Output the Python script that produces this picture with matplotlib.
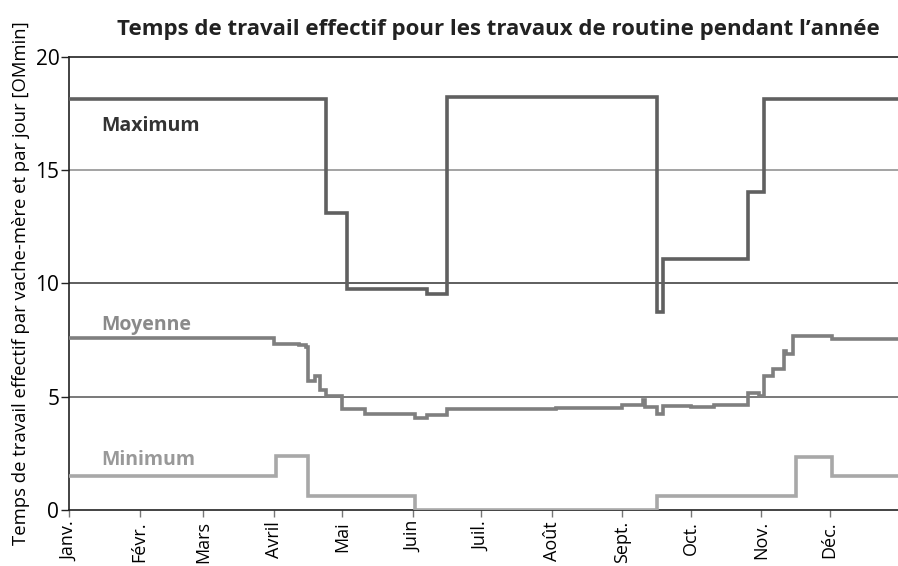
import numpy as np
import matplotlib.pyplot as plt

plt.rcParams['font.family'] = ['Open Sans', 'DejaVu Sans']

# day of year where each level starts, and the level (OMmin per cow and day)
max_days = [0, 113, 122, 157, 166, 258, 261, 298, 305]
max_vals = [18.14, 13.1, 9.77, 9.52, 18.24, 8.74, 11.09, 14.05, 18.14]

mean_days = [0, 90, 101, 104, 105, 108, 110, 113, 120, 130, 152, 157, 166,
             214, 243, 252, 253, 258, 261, 273, 283, 298, 303, 305, 309,
             314, 315, 318, 335]
mean_vals = [7.59, 7.34, 7.28, 7.2, 5.70, 5.90, 5.29, 5.02, 4.48, 4.23, 4.08,
             4.2, 4.45, 4.5, 4.65, 4.85, 4.55, 4.26, 4.58, 4.53, 4.63, 5.18,
             5.02, 5.90, 6.24, 7.0, 6.87, 7.67, 7.56]

min_days = [0, 91, 105, 152, 258, 319, 335]
min_vals = [1.51, 2.38, 0.63, 0.0, 0.63, 2.35, 1.51]

months = ['Janv.', 'Févr.', 'Mars', 'Avril', 'Mai', 'Juin', 'Juil.',
          'Août', 'Sept.', 'Oct.', 'Nov.', 'Déc.']
month_start = [0, 31, 59, 90, 120, 151, 181, 212, 243, 273, 304, 334]
last_day = 364

fig = plt.figure(figsize=(8.98, 5.66), dpi=100)
ax = fig.add_axes([69/898, 1 - 510/566, 829/898, (510 - 57)/566])

# horizontal reference lines
for yv, col in [(5, '#555555'), (10, '#333333'), (15, '#8a8a8a')]:
    ax.axhline(yv, color=col, lw=1.1, zorder=1)


def step_line(days, vals, color):
    x = list(days) + [last_day]
    y = list(vals) + [vals[-1]]
    ax.plot(x, y, drawstyle='steps-post', color=color, lw=2.6,
            solid_joinstyle='miter', zorder=3)


step_line(min_days, min_vals, '#a8a8a8')
step_line(mean_days, mean_vals, '#7f7f7f')
step_line(max_days, max_vals, '#606060')

ax.text(14, 16.95, 'Maximum', fontsize=14, fontweight='bold', color='#333333', va='center')
ax.text(14, 8.15, 'Moyenne', fontsize=14, fontweight='bold', color='#8a8a8a', va='center')
ax.text(14, 2.2, 'Minimum', fontsize=14, fontweight='bold', color='#999999', va='center')

ax.set_xlim(0, last_day)
ax.set_ylim(0, 20)
ax.set_yticks([0, 5, 10, 15, 20])
ax.tick_params(axis='y', labelsize=15, length=6, width=1, color='#222222', pad=1)
ax.set_xticks(month_start)
ax.set_xticklabels(months, rotation=90, fontsize=13)
ax.tick_params(axis='x', length=5, width=1, color='#777777', pad=3)

ax.spines['right'].set_visible(False)
for s in ['left', 'bottom', 'top']:
    ax.spines[s].set_color('#222222')
    ax.spines[s].set_linewidth(1.2)

ax.set_ylabel('Temps de travail effectif par vache-mère et par jour [OMmin]',
              fontsize=13.3, labelpad=4)
fig.text(498/898, 1 - 30/566,
         'Temps de travail effectif pour les travaux de routine pendant l\u2019année',
         ha='center', va='center', fontsize=16, fontweight='bold', color='#222222')

fig.savefig('out.png', dpi=100)
